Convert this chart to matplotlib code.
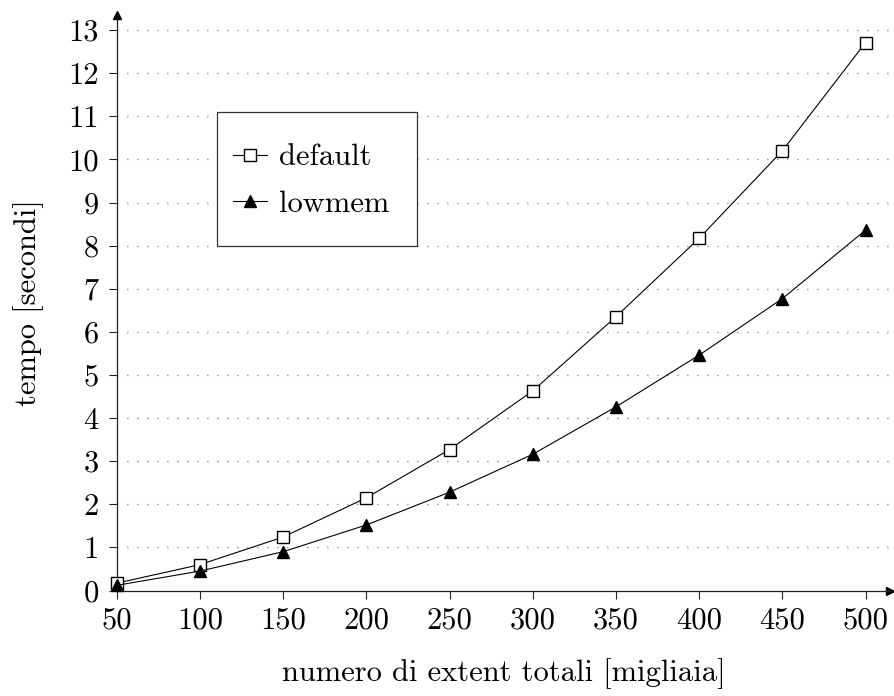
import matplotlib
matplotlib.use("Agg")
import matplotlib.pyplot as plt
from matplotlib.patches import Rectangle

x_vals = [50, 100, 150, 200, 250, 300, 350, 400, 450, 500]
default_vals = [0.17, 0.60, 1.24, 2.15, 3.27, 4.63, 6.35, 8.17, 10.20, 12.71]
lowmem_vals = [0.12, 0.45, 0.90, 1.52, 2.28, 3.16, 4.26, 5.46, 6.77, 8.36]
x_ticks = [50, 100, 150, 200, 250, 300, 350, 400, 450, 500]
y_ticks = list(range(0, 14))

plt.rcParams['font.family'] = ['cmr10', 'DejaVu Serif']
plt.rcParams['axes.formatter.use_mathtext'] = True
plt.rcParams['mathtext.fontset'] = 'cm'

W, H = 894, 696
fig = plt.figure(figsize=(W / 100, H / 100), dpi=100)
ax = fig.add_axes([116.7 / W, 1 - 590.5 / H, (890 - 116.7) / W, (590.5 - 15) / H])

ax.plot(x_vals, default_vals, color='black', lw=0.8, marker='s', ms=8,
        mfc='white', mec='black', mew=1.0, label='default', clip_on=False, zorder=5)
ax.plot(x_vals, lowmem_vals, color='black', lw=0.8, marker='^', ms=8,
        mfc='black', mec='black', label='lowmem', clip_on=False, zorder=5)

ax.set_xlim(50, 514.7)
ax.set_ylim(0, 13.35)
ax.set_xticks(x_ticks)
ax.set_xticklabels([str(v) for v in x_ticks])
ax.set_yticks(y_ticks)
ax.set_yticklabels([str(v) for v in y_ticks])

ax.grid(axis='y', linestyle=(0, (0.6, 6.6)), color='#444444', lw=1.0)
ax.grid(axis='x', visible=False)
ax.set_axisbelow(True)

for s in ['top', 'right']:
    ax.spines[s].set_visible(False)
for s in ['left', 'bottom']:
    ax.spines[s].set_linewidth(0.9)
    ax.spines[s].set_color('#222222')

ax.tick_params(axis='both', direction='out', length=6, width=0.8, labelsize=22,
               color='#222222')
ax.tick_params(axis='x', pad=6)
ax.tick_params(axis='y', pad=7)

ax.plot(1, 0, marker='>', color='black', ms=6, transform=ax.transAxes, clip_on=False)
ax.plot(0, 1, marker='^', color='black', ms=6, transform=ax.transAxes, clip_on=False)

ax.set_xlabel('numero di extent totali [migliaia]', fontsize=22, labelpad=17)
ax.set_ylabel('tempo [secondi]', fontsize=22, labelpad=17)

ax.add_patch(Rectangle((217 / W, 1 - 246 / H), 200 / W, 134 / H,
                       transform=fig.transFigure, facecolor='white',
                       edgecolor='#333333', lw=0.9, zorder=8, clip_on=False))
leg = ax.legend(loc='upper left', bbox_to_anchor=(233 / W, 1 - 144 / H),
                bbox_transform=fig.transFigure, fontsize=22, frameon=False,
                borderpad=0, labelspacing=0.61,
                handlelength=1.1, handletextpad=0.4, borderaxespad=0)
leg.set_zorder(10)

fig.savefig('out.png', dpi=100)
